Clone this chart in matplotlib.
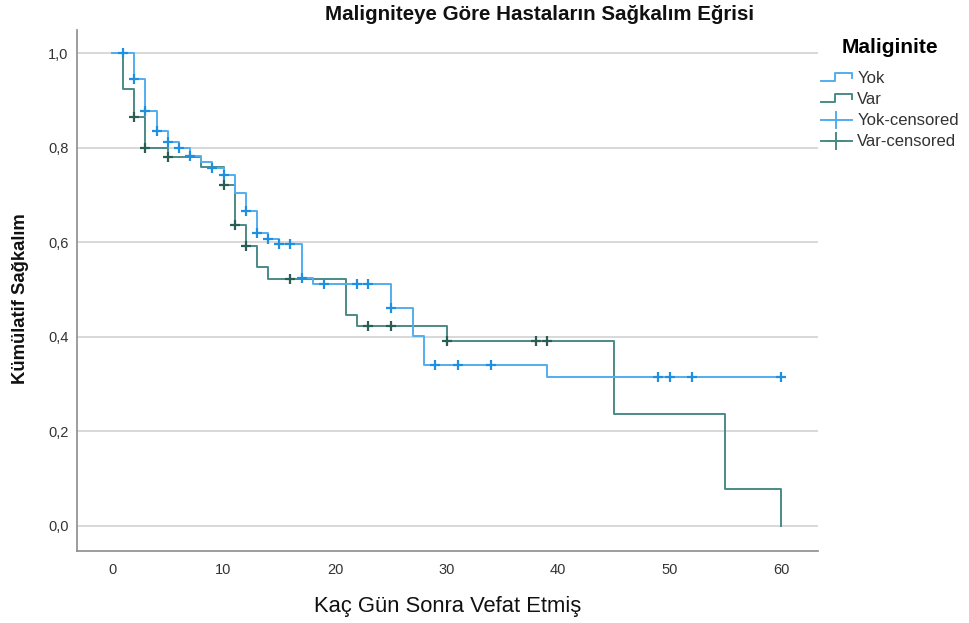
import matplotlib
matplotlib.use("Agg")
import matplotlib.pyplot as plt
from matplotlib.lines import Line2D
from matplotlib.legend_handler import HandlerBase

plt.rcParams['font.family'] = ['Liberation Sans', 'DejaVu Sans']

# Kaplan-Meier basamaklari (gun, kumulatif sagkalim)
yok_t = [0, 2, 3, 4, 5, 6, 7, 8, 9, 10, 11, 12, 13, 14, 15, 17, 18, 25, 27, 28, 39, 60]
yok_s = [1.0, 0.945, 0.877, 0.835, 0.812, 0.799, 0.782, 0.770, 0.757, 0.742, 0.704,
         0.667, 0.619, 0.607, 0.597, 0.524, 0.512, 0.460, 0.402, 0.340, 0.315, 0.315]
var_t = [0, 1, 2, 3, 5, 8, 10, 11, 12, 13, 14, 21, 22, 30, 45, 55, 60]
var_s = [1.0, 0.923, 0.865, 0.799, 0.780, 0.759, 0.720, 0.636, 0.592, 0.548, 0.522,
         0.447, 0.422, 0.392, 0.236, 0.078, 0.0]

# sansurlu gozlemler
yok_cens_t = [1, 2, 3, 4, 5, 6, 7, 9, 10, 12, 13, 14, 15, 16, 17, 19, 22, 23, 25,
              29, 31, 34, 49, 50, 52, 60]
yok_cens_s = [1.0, 0.945, 0.877, 0.835, 0.812, 0.799, 0.782, 0.757, 0.742, 0.667,
              0.619, 0.607, 0.597, 0.597, 0.524, 0.512, 0.512, 0.512, 0.460,
              0.340, 0.340, 0.340, 0.315, 0.315, 0.315, 0.315]
var_cens_t = [2, 3, 5, 10, 11, 12, 16, 23, 25, 30, 38, 39]
var_cens_s = [0.865, 0.799, 0.780, 0.720, 0.636, 0.592, 0.522, 0.422, 0.422,
              0.392, 0.392, 0.392]

y_ticks = [0.0, 0.2, 0.4, 0.6, 0.8, 1.0]
x_ticks = [0, 10, 20, 30, 40, 50, 60]

blue = '#52aef0'
blue_c = '#1f8fe0'
green = '#4a8a85'
green_c = '#2a5e55'


class HandlerStep(HandlerBase):
    def create_artists(self, legend, orig, xd, yd, w, h, fontsize, trans):
        lo = h * 0.2 - yd
        hi = h * 0.85 - yd
        xs = [-xd, -xd + w * 0.45, -xd + w * 0.45, -xd + w, -xd + w]
        ys = [lo, lo, hi, hi, hi - h * 0.35]
        ln = Line2D(xs, ys, color=orig.get_color(), lw=orig.get_linewidth())
        ln.set_transform(trans)
        return [ln]


fig = plt.figure(figsize=(9.69, 6.23), dpi=100)
ax = fig.add_axes([0.0795, 0.1156, 0.7645, 0.8364])

for y in y_ticks:
    ax.axhline(y, color='#d2d2d2', lw=1.2, zorder=0)

ax.step(yok_t, yok_s, where='post', color=blue, lw=1.4, zorder=3)
ax.step(var_t, var_s, where='post', color=green, lw=1.4, zorder=2)
ax.plot(yok_cens_t, yok_cens_s, ls='none', marker='+', ms=7.5, mew=1.6, color=blue_c, zorder=4)
ax.plot(var_cens_t, var_cens_s, ls='none', marker='+', ms=7.5, mew=1.6, color=green_c, zorder=4)

ax.set_xlim(-3.14, 63.3)
ax.set_ylim(-0.053, 1.049)
ax.set_xticks(x_ticks)
ax.set_yticks(y_ticks)
ax.set_yticklabels([f"{v:.1f}".replace('.', ',') for v in y_ticks])
ax.tick_params(length=0, labelsize=10.5, colors='#333333')
ax.tick_params(axis='y', pad=6)
ax.tick_params(axis='x', pad=9)

for s in ['top', 'right']:
    ax.spines[s].set_visible(False)
for s in ['left', 'bottom']:
    ax.spines[s].set_color('#8c8c8c')
    ax.spines[s].set_linewidth(1.2)

ax.set_xlabel("Kaç Gün Sonra Vefat Etmiş", fontsize=15.8, color='#111111', labelpad=13)
ax.set_ylabel("Kümülatif Sağkalım", fontsize=13.3, fontweight='bold', color='#111111')
ax.yaxis.set_label_coords(-0.065, 0.484)
fig.text(0.557, 0.976, "Maligniteye Göre Hastaların Sağkalım Eğrisi",
         ha='center', va='center', fontsize=14.8, fontweight='bold', color='#111111')

h_yok = Line2D([], [], color=blue, lw=1.4)
h_var = Line2D([], [], color=green, lw=1.4)
h_yc = Line2D([], [], color=blue, lw=1.4, marker='+', ms=13, mew=1.4, markeredgecolor=blue)
h_vc = Line2D([], [], color=green, lw=1.4, marker='+', ms=13, mew=1.4, markeredgecolor=green)
leg = fig.legend([h_yok, h_var, h_yc, h_vc], ['Yok', 'Var', 'Yok-censored', 'Var-censored'],
                 handler_map={h_yok: HandlerStep(), h_var: HandlerStep()},
                 loc='upper left', bbox_to_anchor=(0.840, 0.95), frameon=False,
                 title='Maliginite', fontsize=12, handlelength=1.9, handletextpad=0.3,
                 labelspacing=0.36, borderaxespad=0)
leg.get_title().set_fontweight('bold')
leg.get_title().set_fontsize(15)
leg._legend_box.sep = 10.5
for t in leg.get_texts():
    t.set_color('#333333')

fig.savefig('out.png', dpi=100)
